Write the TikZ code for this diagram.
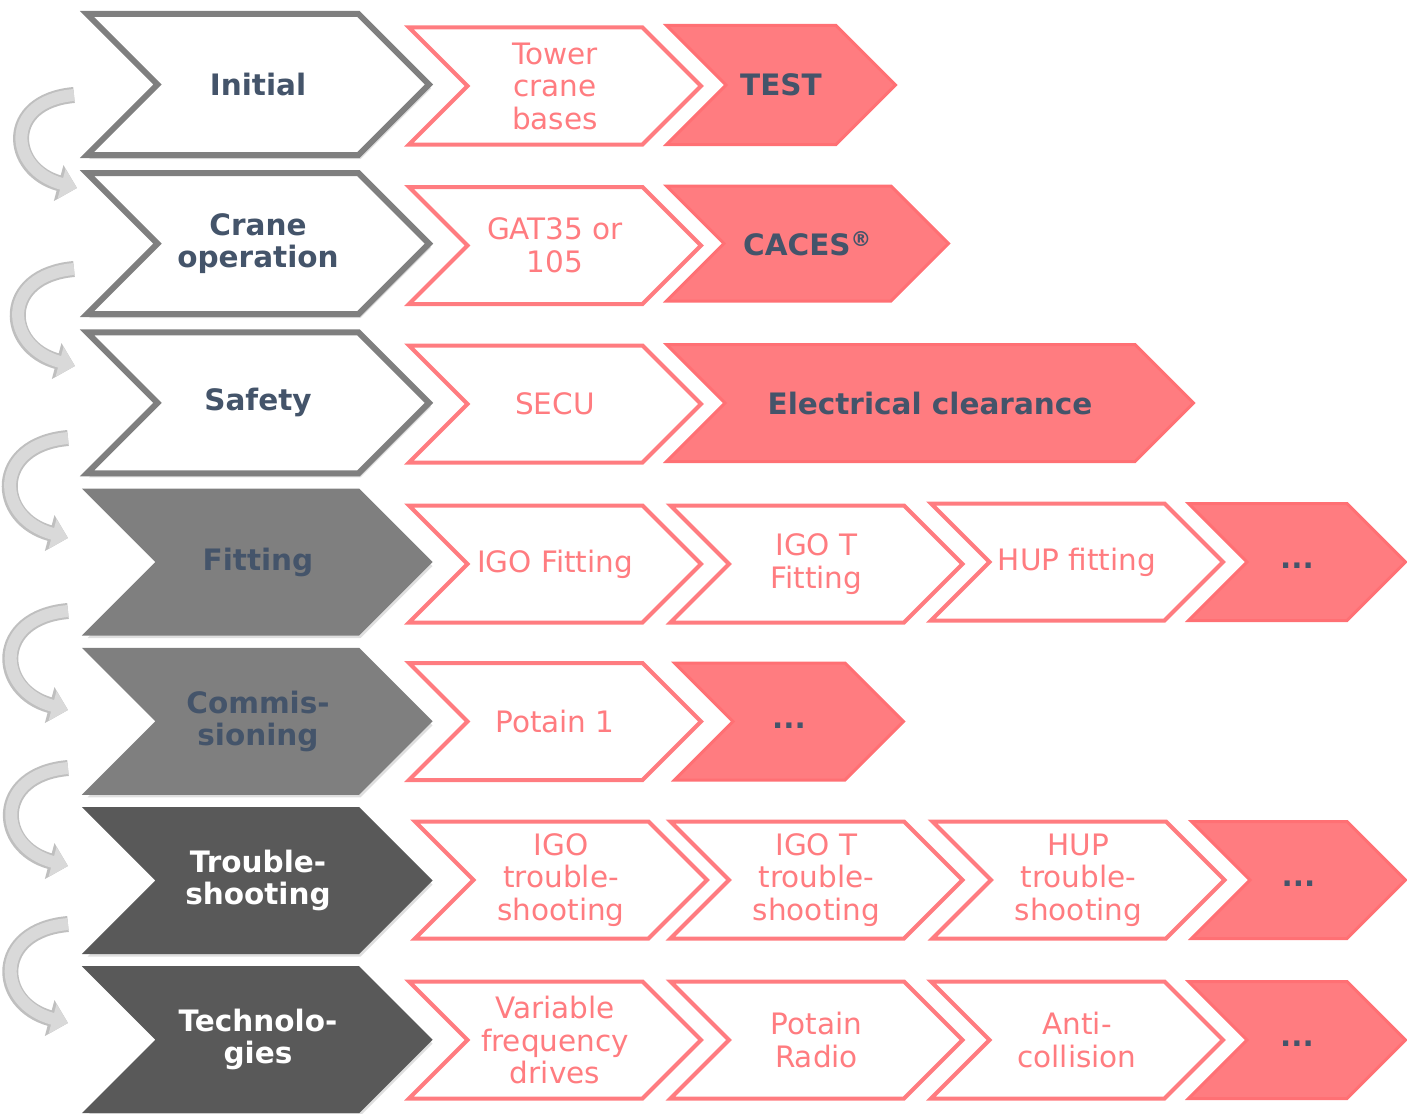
\documentclass[tikz,border=0pt]{standalone}
\usepackage{fontspec}
\setmainfont{DejaVu Sans}
\usepackage{tikz}
\usetikzlibrary{shadows, arrows.meta}

\definecolor{slate}{HTML}{44546A}
\definecolor{coral}{HTML}{FF7C80}
\definecolor{coraledge}{HTML}{FF7074}
\definecolor{greyedge}{HTML}{7F7F7F}
\definecolor{greydark}{HTML}{595959}
\definecolor{turnfill}{HTML}{D9D9D9}
\definecolor{turnedge}{HTML}{BFBFBF}

\tikzstyle{stage} = [draw=greyedge,line width=6pt,fill=white,drop shadow={opacity=.25,shadow xshift=2pt,shadow yshift=-4pt}]
\tikzstyle{stagemid} = [stage,line width=3pt,fill=greyedge]
\tikzstyle{stagedark} = [stage,line width=3pt,draw=greydark,fill=greydark]
\tikzstyle{course} = [draw=coral,line width=4pt,fill=white]
\tikzstyle{exam} = [draw=coraledge,line width=3pt,fill=coral]
\tikzstyle{stagetext} = [font=\bfseries\fontsize{29.5}{32.5}\selectfont,text=slate,align=center]
\tikzstyle{stagelight} = [stagetext,text=white]
\tikzstyle{coursetext} = [font=\fontsize{29.5}{32.5}\selectfont,text=coral,align=center]
\tikzstyle{turn} = [line width=12pt,draw=turnfill,-{Triangle[width=30pt,length=16pt]},looseness=1.95,
  preaction={draw=turnedge,line width=16pt,-{Triangle[width=36pt,length=19pt]}}]

% chevron: path style, text style, name, x, y, width, height, text
\newcommand{\chev}[8]{%
  \draw[#1] (#4-#6/2,#5-#7/2) -- ++(#6-#7/2,0) -- ++(#7/2,#7/2)
    -- ++(-#7/2,#7/2) -- ++(-#6+#7/2,0) -- ++(#7/2,-#7/2) -- cycle;
  \node[#2] (#3) at (#4,#5) {#8};}

\begin{document}
\begin{tikzpicture}[x=1pt,y=-1pt]
	\useasboundingbox (0,0) rectangle (1407,1113);

	%Curved arrows
	\coordinate (t1) at (74,95);   \coordinate (h1) at (77,188);
	\coordinate (t2) at (74,269);  \coordinate (h2) at (75,366);
	\coordinate (t3) at (68,438);  \coordinate (h3) at (68,538);
	\coordinate (t4) at (68,611);  \coordinate (h4) at (68,710);
	\coordinate (t5) at (68,768);  \coordinate (h5) at (68,866);
	\coordinate (t6) at (68,924);  \coordinate (h6) at (68,1023);
	\draw[turn] (t1) to[out=185,in=165] (h1);
	\draw[turn] (t2) to[out=185,in=165] (h2);
	\draw[turn] (t3) to[out=185,in=165] (h3);
	\draw[turn] (t4) to[out=185,in=165] (h4);
	\draw[turn] (t5) to[out=185,in=165] (h5);
	\draw[turn] (t6) to[out=185,in=165] (h6);

	%Stages
	\chev{stage}{stagetext}{init}{258}{84.5}{342}{141}{Initial}
	\chev{stage}{stagetext}{crane}{258}{243.7}{342}{141}{Crane\\operation}
	\chev{stage}{stagetext}{safety}{258}{402.9}{342}{141}{Safety}
	\chev{stagemid}{stagetext}{fitting}{258}{562.1}{345}{144}{Fitting}
	\chev{stagemid}{stagetext}{commis}{258}{721.3}{345}{144}{Commis-\\sioning}
	\chev{stagedark}{stagelight}{trouble}{258}{880.5}{345}{144}{Trouble-\\shooting}
	\chev{stagedark}{stagelight}{techno}{258}{1039.7}{345}{144}{Technolo-\\gies}

	%Courses
	\chev{course}{coursetext}{tower}{555}{86}{292}{117}{Tower\\crane\\bases}
	\chev{course}{coursetext}{gat}{555}{245.5}{292}{117}{GAT35 or\\105}
	\chev{course}{coursetext}{secu}{555}{404}{292}{117}{SECU}
	\chev{course}{coursetext}{igofit}{555}{564}{292}{117}{IGO Fitting}
	\chev{course}{coursetext}{igotfit}{816.5}{564}{292}{117}{IGO T\\Fitting}
	\chev{course}{coursetext}{hupfit}{1077}{562}{292}{117}{HUP fitting}
	\chev{course}{coursetext}{potain}{555}{721.5}{292}{117}{Potain 1}
	\chev{course}{coursetext}{igotrb}{561}{880}{292}{117}{IGO\\trouble-\\shooting}
	\chev{course}{coursetext}{igottrb}{816.5}{880}{292}{117}{IGO T\\trouble-\\shooting}
	\chev{course}{coursetext}{huptrb}{1078.5}{880}{292}{117}{HUP\\trouble-\\shooting}
	\chev{course}{coursetext}{drives}{555}{1040}{292}{117}{Variable\\frequency\\drives}
	\chev{course}{coursetext}{radio}{816.5}{1040}{292}{117}{Potain\\Radio}
	\chev{course}{coursetext}{anti}{1077}{1040}{292}{117}{Anti-\\collision}

	%Exams
	\chev{exam}{stagetext}{test}{781}{85}{229}{119}{TEST}
	\chev{exam}{stagetext}{caces}{807.5}{243.5}{282}{115}{CACES\textsuperscript{®}}
	\chev{exam}{stagetext}{elec}{930}{403}{527}{117}{Electrical clearance}
	\chev{exam}{stagetext}{more4}{1297}{562}{217}{117}{\strut...}
	\chev{exam}{stagetext}{more5}{789}{721.5}{229}{117}{\strut...}
	\chev{exam}{stagetext}{more6}{1298.5}{880}{214}{117}{\strut...}
	\chev{exam}{stagetext}{more7}{1297}{1040}{217}{117}{\strut...}

\end{tikzpicture}
\end{document}
